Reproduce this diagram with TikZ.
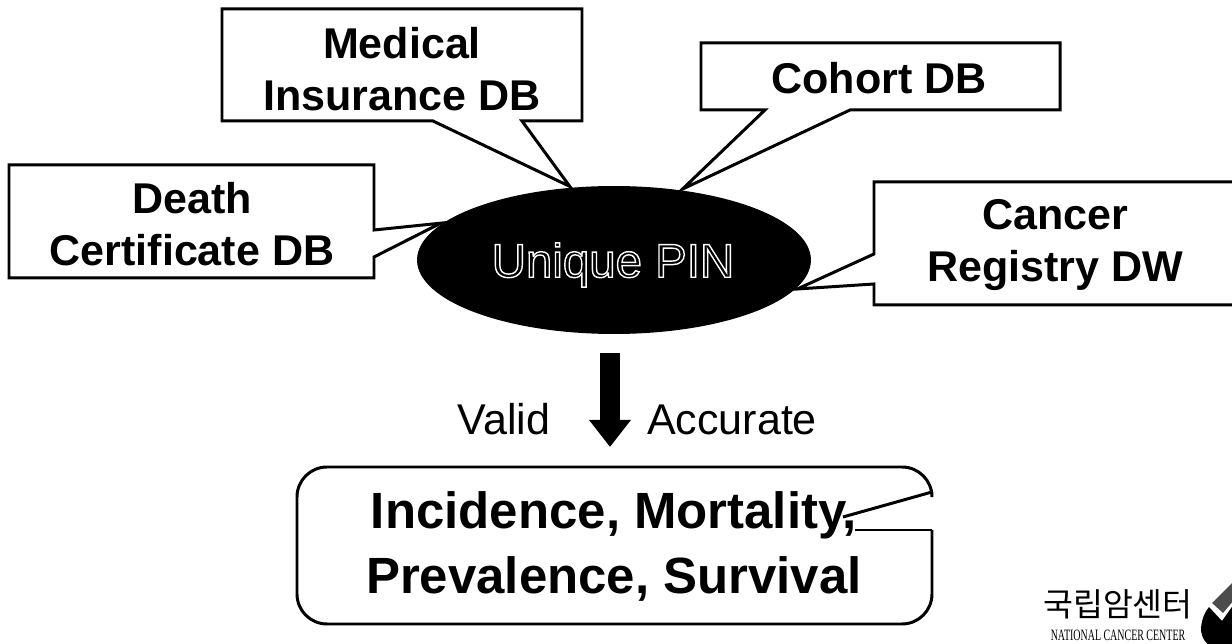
\documentclass[tikz,border=0pt]{standalone}
\usepackage{fontspec}
\setmainfont{Liberation Sans}
\newfontfamily\krfont{Noto Sans CJK KR}
\newfontfamily\logofont{Liberation Serif}
\usetikzlibrary{arrows.meta,shapes.geometric}
\newcommand{\outlined}[1]{\special{pdf:code 1 Tr 0.8 w}#1\special{pdf:code 0 Tr}}

\begin{document}
\begin{tikzpicture}[x=0.02cm,y=-0.02cm,line width=1.7pt,
  dblab/.style={font=\fontsize{24.5}{30}\selectfont\bfseries,align=center,inner sep=0pt},
  reslab/.style={font=\fontsize{29}{37}\selectfont\bfseries,align=center,inner sep=0pt},
  sidelab/.style={font=\fontsize{24.5}{28}\selectfont,inner sep=0pt,anchor=base}]
\useasboundingbox (0,0) rectangle (1232,644);
\node[ellipse,fill=black,inner sep=0pt,minimum width=7.88cm,minimum height=2.96cm] (pin) at (614,260) {};
\node[text=white,font=\fontsize{27}{32}\selectfont,inner sep=0pt] (pinlab) at (613,265) {\outlined{Unique PIN}};
\draw[fill=white] (222,9)--(582,9)--(582,121)--(522,121)--(pin.121)--(433,121)--(222,121)--cycle;
\draw[fill=white] (701,43)--(1060,43)--(1060,110)--(850,110)--(pin.46)--(765,110)--(701,110)--cycle;
\draw[fill=white] (9,165)--(374,165)--(374,230)--(pin.168)--(374,257)--(374,278)--(9,278)--cycle;
\draw[fill=white] (1240,182)--(874,182)--(874,254)--(pin.-9)--(874,284)--(874,305)--(1240,305);
\node[dblab] (medical) at (402,69) {Medical\\Insurance DB};
\node[dblab] (cohort) at (879,78) {Cohort DB};
\node[dblab] (death) at (192,224) {Death\\Certificate DB};
\node[dblab] (cancer) at (1055,245) {Cancer\\Registry DW};
\coordinate (arrowtop) at (610,353);
\coordinate (arrowtip) at (610,447);
\draw[line width=0.4cm,-{Triangle[length=0.54cm,width=0.8cm]}] (arrowtop) -- (arrowtip);
\node[sidelab] (valid) at (504,435) {Valid};
\node[sidelab] (accurate) at (732,435) {Accurate};
\draw[rounded corners=0.6cm] (932,492)--(932,467)--(297,467)--(297,624)--(932,624)--(932,530);
\draw (932,492)--(843,517);
\draw (855,530)--(932,530);
\node[reslab] (result) at (614,546) {Incidence, Mortality,\\Prevalence, Survival};
% logo
\node[font=\krfont\fontsize{18.5}{20}\selectfont,inner sep=0pt] (krname) at (1118,604) {국립암센터};
\node[font=\logofont\fontsize{9}{9}\selectfont,inner sep=0pt,anchor=base] (enname) at (1118,641) {\scalebox{0.63}[1]{NATIONAL CANCER CENTER}};
\fill (1201,628) .. controls (1202,618) and (1205,612) .. (1209,607) -- (1222,621) -- (1234,604) -- (1234,648) -- (1215,648) .. controls (1206,645) and (1201,638) .. (1201,628) -- cycle;
\fill[black!70] (1212,603)--(1232,583)--(1234,588)--(1234,600)--(1223,613)--cycle;
\end{tikzpicture}
\end{document}
